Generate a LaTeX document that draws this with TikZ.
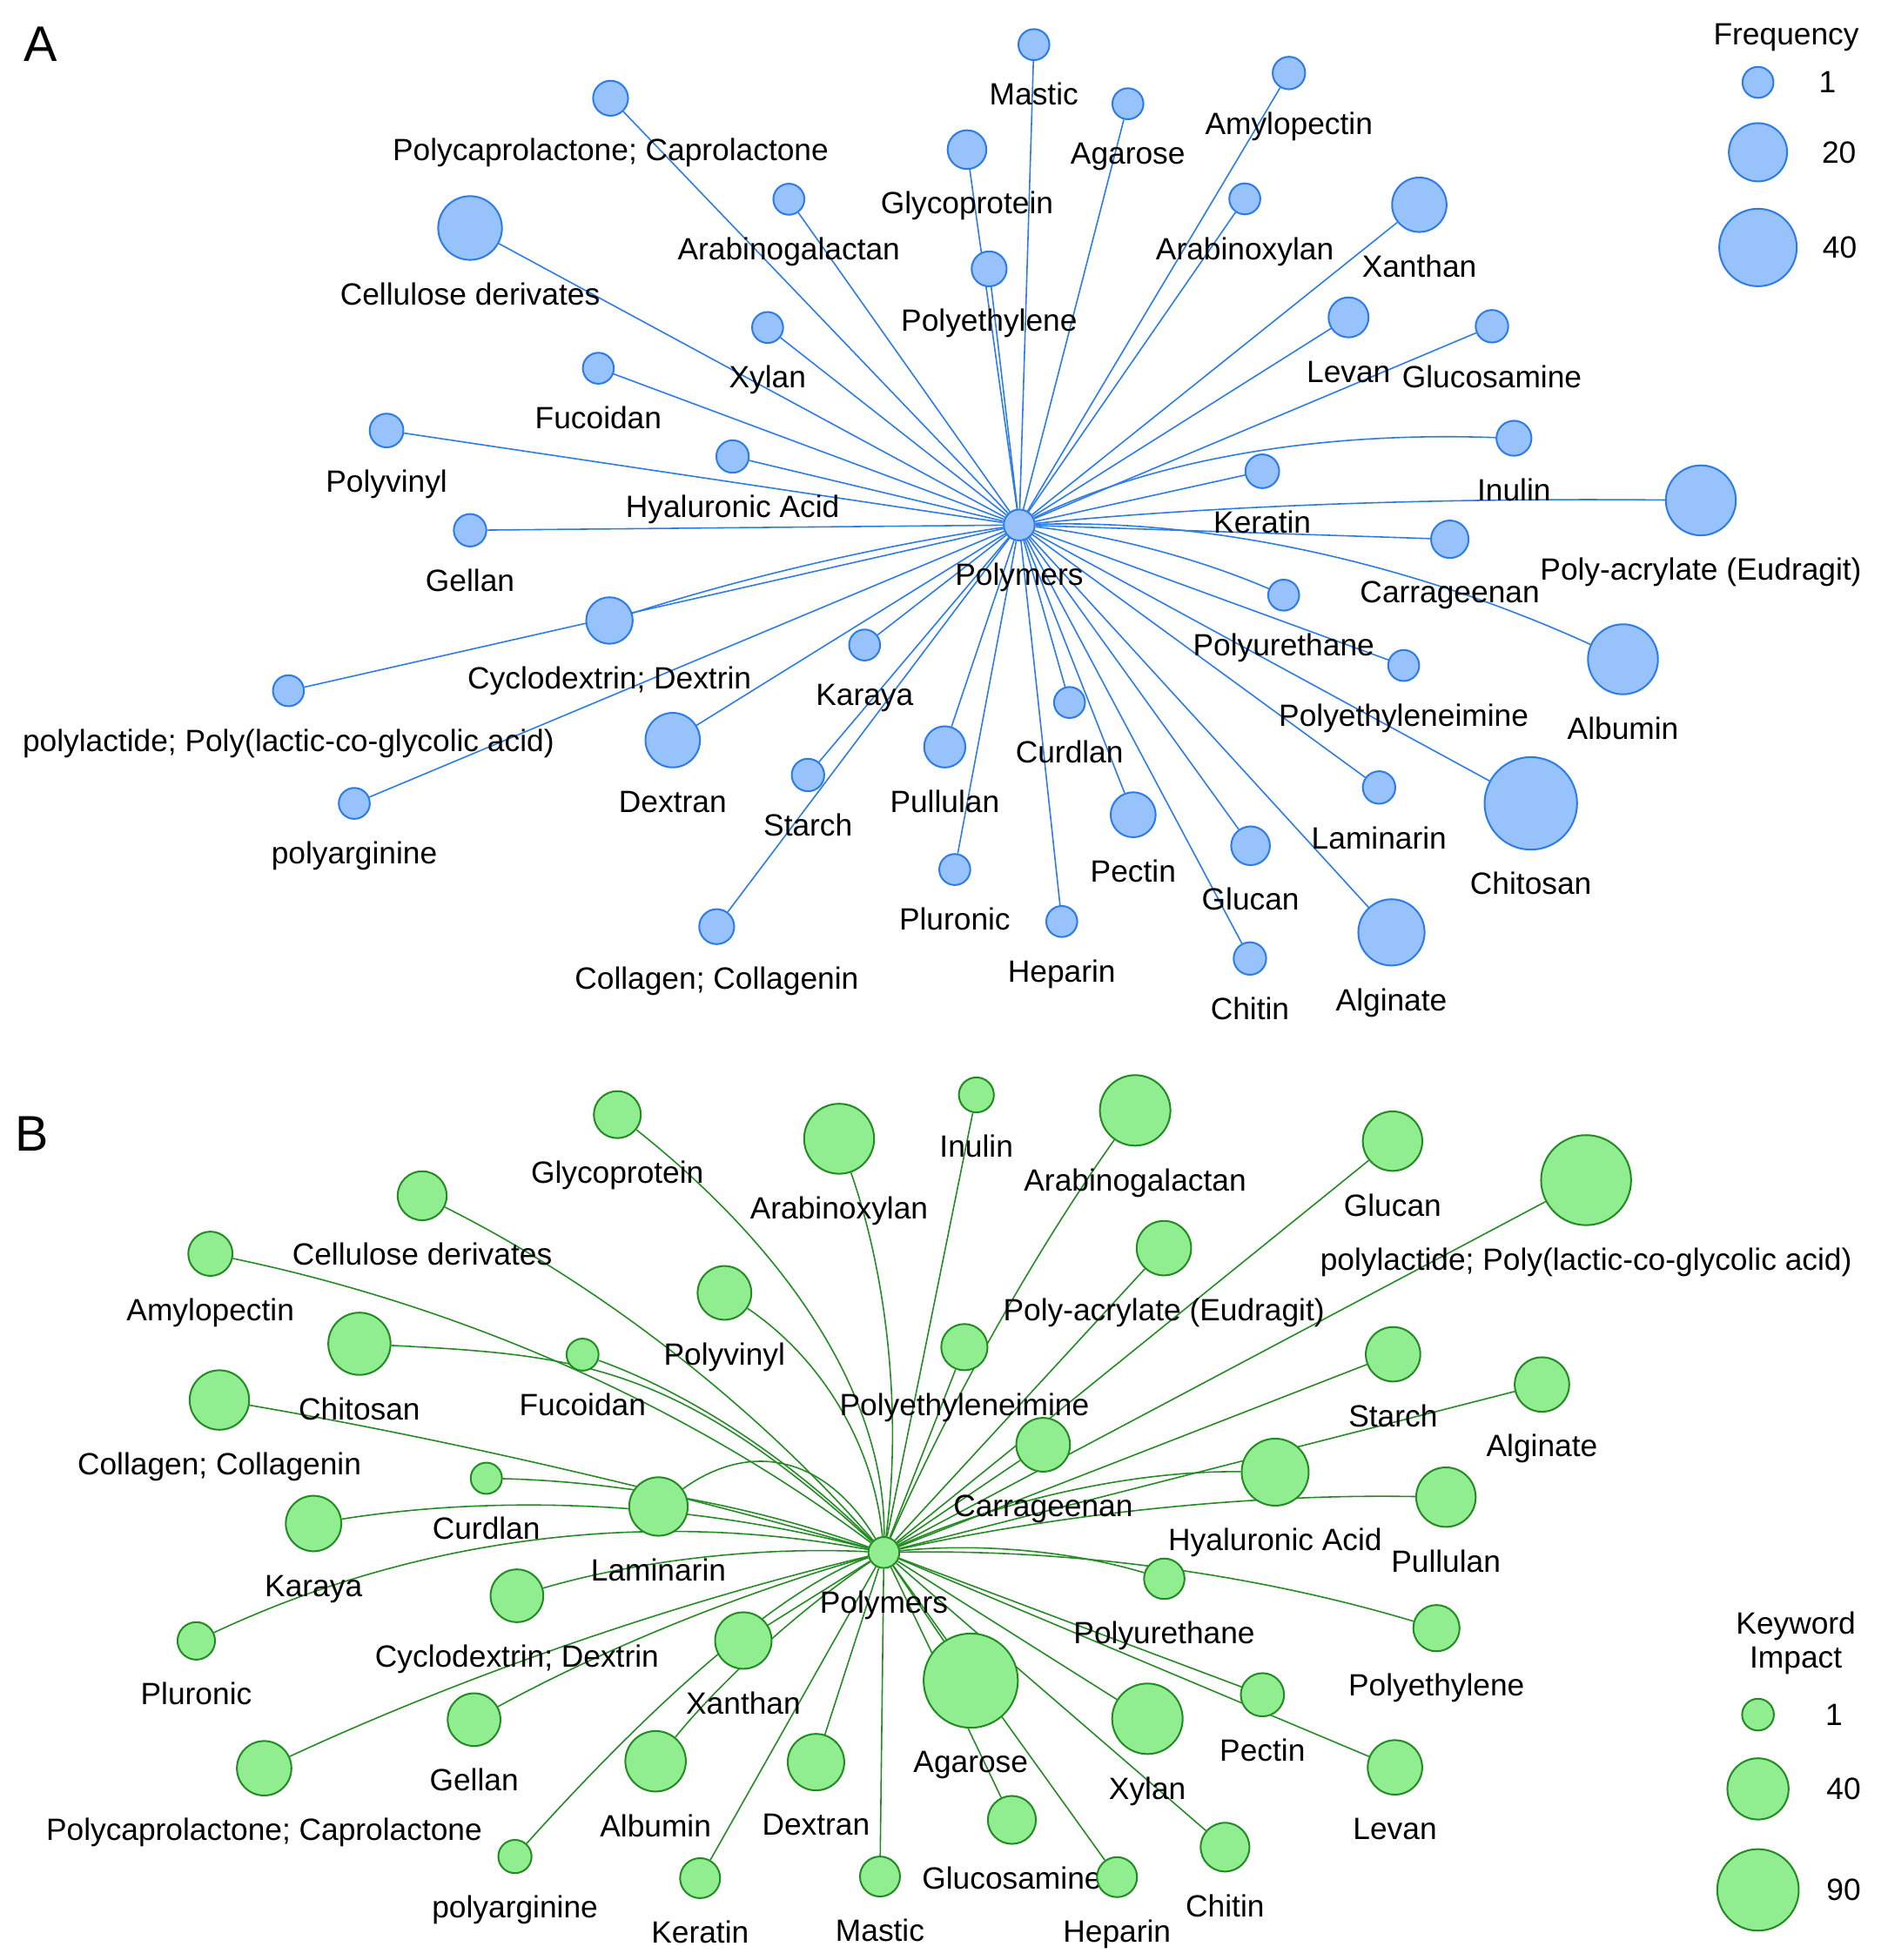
\documentclass[tikz,border=0pt]{standalone}
\usepackage{fontspec}
\setmainfont{Liberation Sans}
\usetikzlibrary{calc}
\pgfdeclarelayer{background}
\pgfsetlayers{background,main}
\definecolor{afill}{HTML}{97C2FC}
\definecolor{aline}{HTML}{2B7CE9}
\definecolor{bfill}{HTML}{90EE90}
\definecolor{bline}{HTML}{228B22}
\newcommand\labfont{\fontsize{24.6}{29}\selectfont}
% style, name, x, y, r, label
\newcommand\pnode[6]{%
  \node[#1, minimum size={2*#5pt}] (#2) at (#3,#4) {};
  \node[lab] (#2-t) at (#3,{#4+#5+36}) {#6};}
% quadratic edge: style, from, via point, to
\newcommand\qedge[4]{\draw[#1] (#2) .. controls ($(#2)!0.6667!(#3)$) and ($(#4)!0.6667!(#3)$) .. (#4);}
\begin{document}
\begin{tikzpicture}[x=1pt,y=-1pt,
  anode/.style={circle, draw=aline, fill=afill, line width=1.4pt, inner sep=0pt},
  bnode/.style={circle, draw=bline, fill=bfill, line width=1.4pt, inner sep=0pt},
  aedge/.style={draw=aline, line width=1.1pt},
  bedge/.style={draw=bline, line width=1.1pt},
  lab/.style={font=\labfont, inner sep=0pt, anchor=base},
  num/.style={font=\labfont, inner sep=0pt},
  panel/.style={font=\fontsize{40}{40}\selectfont, inner sep=0pt, anchor=base west}]
\useasboundingbox (0,0) rectangle (1510,1568);

% ---------------- Panel A ----------------
\node[panel] (pA) at (18.6,48.8) {A};
\pnode{anode}{aC}{815.3}{420}{12.4}{Polymers}
\pnode{anode}{aMas}{827}{35.7}{12.4}{Mastic}
\pnode{anode}{aPcl}{488.4}{78.6}{14}{Polycaprolactone; Caprolactone}
\pnode{anode}{aAga}{902.2}{83}{12.4}{Agarose}
\pnode{anode}{aAmy}{1031}{58.4}{13}{Amylopectin}
\pnode{anode}{aGly}{773.5}{119.7}{15.5}{Glycoprotein}
\pnode{anode}{aAgal}{631}{159.4}{12.4}{Arabinogalactan}
\pnode{anode}{aAxy}{995.7}{159.1}{12.4}{Arabinoxylan}
\pnode{anode}{aXan}{1135.3}{163.8}{21.8}{Xanthan}
\pnode{anode}{aCel}{376}{182.4}{25.5}{Cellulose derivates}
\pnode{anode}{aPeth}{791.2}{215.1}{14}{Polyethylene}
\pnode{anode}{aXyl}{614}{262}{12.4}{Xylan}
\pnode{anode}{aLev}{1078.7}{253.9}{16}{Levan}
\pnode{anode}{aGlcn}{1193.4}{261}{13}{Glucosamine}
\pnode{anode}{aFuc}{478.6}{294.6}{12.4}{Fucoidan}
\pnode{anode}{aPvi}{309.2}{344.4}{13.5}{Polyvinyl}
\pnode{anode}{aInu}{1211}{350.6}{14}{Inulin}
\pnode{anode}{aHya}{586}{365.2}{13}{Hyaluronic Acid}
\pnode{anode}{aKer}{1009.7}{377}{13.5}{Keratin}
\pnode{anode}{aPac}{1360.5}{400.3}{28}{Poly-acrylate (Eudragit)}
\pnode{anode}{aGel}{376}{424.2}{13}{Gellan}
\pnode{anode}{aCar}{1159.7}{431.4}{15}{Carrageenan}
\pnode{anode}{aCyc}{487.5}{496.4}{18.6}{Cyclodextrin; Dextrin}
\pnode{anode}{aPla}{230.7}{552.6}{12.4}{polylactide; Poly(lactic-co-glycolic acid)}
\pnode{anode}{aKar}{691.6}{516}{12.4}{Karaya}
\pnode{anode}{aPur}{1026.8}{476.1}{12.4}{Polyurethane}
\pnode{anode}{aPei}{1122.8}{532.4}{12.4}{Polyethyleneimine}
\pnode{anode}{aAlb}{1298.2}{527.4}{28}{Albumin}
\pnode{anode}{aDex}{538.1}{592.1}{21.8}{Dextran}
\pnode{anode}{aCur}{855.5}{562}{12.4}{Curdlan}
\pnode{anode}{aPul}{755.7}{597.5}{16.5}{Pullulan}
\pnode{anode}{aSta}{646.3}{620}{13}{Starch}
\pnode{anode}{aPar}{283.4}{642.7}{12.4}{polyarginine}
\pnode{anode}{aLam}{1103.1}{630}{13}{Laminarin}
\pnode{anode}{aPec}{906.4}{651.8}{18}{Pectin}
\pnode{anode}{aChs}{1224.5}{642.7}{37}{Chitosan}
\pnode{anode}{aGlu}{1000.3}{676.6}{15.5}{Glucan}
\pnode{anode}{aPlu}{763.7}{695.6}{12.4}{Pluronic}
\pnode{anode}{aAlg}{1113}{745.9}{26.5}{Alginate}
\pnode{anode}{aCol}{573.3}{741.3}{14}{Collagen; Collagenin}
\pnode{anode}{aHep}{849.3}{737.2}{12.4}{Heparin}
\pnode{anode}{aChi}{999.8}{766.8}{13}{Chitin}

% legend A
\node[lab] (legAt) at (1428.8,36.2) {Frequency};
\node[anode, minimum size=24.8pt] (legA1) at (1406.2,65.9) {};
\node[num] (legA1t) at (1461.7,65.9) {1};
\node[anode, minimum size=46.6pt] (legA2) at (1406.2,121.8) {};
\node[num] (legA2t) at (1471,121.8) {20};
\node[anode, minimum size=62pt] (legA3) at (1406.2,198) {};
\node[num] (legA3t) at (1471.6,198) {40};

% ---------------- Panel B ----------------
\node[panel] (pB) at (12.2,920.7) {B};
\pnode{bnode}{bC}{707}{1242}{12.4}{Polymers}
\pnode{bnode}{bInu}{781}{875.9}{14}{Inulin}
\pnode{bnode}{bGly}{493.8}{891.7}{18.8}{Glycoprotein}
\pnode{bnode}{bAxy}{671.2}{911}{28}{Arabinoxylan}
\pnode{bnode}{bAgal}{908}{888.3}{28.2}{Arabinogalactan}
\pnode{bnode}{bGlu}{1113.9}{912.9}{23.8}{Glucan}
\pnode{bnode}{bPla}{1268.7}{944.1}{36}{polylactide; Poly(lactic-co-glycolic acid)}
\pnode{bnode}{bCel}{337.7}{956.6}{19.6}{Cellulose derivates}
\pnode{bnode}{bAmy}{168.3}{1003}{17.7}{Amylopectin}
\pnode{bnode}{bPac}{931}{998.5}{21.8}{Poly-acrylate (Eudragit)}
\pnode{bnode}{bPvi}{579.5}{1034.3}{21.5}{Polyvinyl}
\pnode{bnode}{bChs}{287.5}{1075}{24.9}{Chitosan}
\pnode{bnode}{bFuc}{466}{1083.7}{12.8}{Fucoidan}
\pnode{bnode}{bPei}{771.4}{1077.7}{18.5}{Polyethyleneimine}
\pnode{bnode}{bSta}{1114.3}{1083.4}{21.8}{Starch}
\pnode{bnode}{bAlg}{1233.4}{1107.6}{21.8}{Alginate}
\pnode{bnode}{bCol}{175.5}{1120}{23.8}{Collagen; Collagenin}
\pnode{bnode}{bCar}{834.4}{1155.8}{21.5}{Carrageenan}
\pnode{bnode}{bHya}{1020}{1177.7}{26.8}{Hyaluronic Acid}
\pnode{bnode}{bPul}{1156.6}{1197.7}{23.8}{Pullulan}
\pnode{bnode}{bCur}{389}{1182.6}{12.5}{Curdlan}
\pnode{bnode}{bLam}{526.7}{1205.2}{23.4}{Laminarin}
\pnode{bnode}{bKar}{250.8}{1218.8}{22.2}{Karaya}
\pnode{bnode}{bPur}{931.3}{1263}{16.2}{Polyurethane}
\pnode{bnode}{bCyc}{413.5}{1276.6}{21.1}{Cyclodextrin; Dextrin}
\pnode{bnode}{bPlu}{157}{1312.7}{15}{Pluronic}
\pnode{bnode}{bPeth}{1149}{1302.5}{18.5}{Polyethylene}
\pnode{bnode}{bXan}{594.6}{1312.4}{22.6}{Xanthan}
\pnode{bnode}{bAga}{776.5}{1344.5}{37.7}{Agarose}
\pnode{bnode}{bPec}{1009.8}{1355.8}{17.3}{Pectin}
\pnode{bnode}{bXyl}{917.8}{1375}{28.2}{Xylan}
\pnode{bnode}{bGel}{379.2}{1375.7}{21.1}{Gellan}
\pnode{bnode}{bLev}{1115.8}{1413.9}{21.8}{Levan}
\pnode{bnode}{bPcl}{211.3}{1414.6}{21.8}{Polycaprolactone; Caprolactone}
\pnode{bnode}{bAlb}{524.4}{1409}{24.2}{Albumin}
\pnode{bnode}{bDex}{652.7}{1409.7}{22.6}{Dextran}
\pnode{bnode}{bGlcn}{809.4}{1455.9}{19.2}{Glucosamine}
\pnode{bnode}{bChi}{979.9}{1477.7}{19.5}{Chitin}
\pnode{bnode}{bPar}{411.9}{1485.2}{13.3}{polyarginine}
\pnode{bnode}{bKer}{560}{1502.5}{16}{Keratin}
\pnode{bnode}{bMas}{703.9}{1501.2}{16}{Mastic}
\pnode{bnode}{bHep}{893.5}{1501.7}{16}{Heparin}

% legend B
\node[lab] (legBt1) at (1436.5,1307.5) {Keyword};
\node[lab] (legBt2) at (1436.5,1334.5) {Impact};
\node[bnode, minimum size=25.4pt] (legB1) at (1406.2,1371.7) {};
\node[num] (legB1t) at (1466.9,1371.7) {1};
\node[bnode, minimum size=49pt] (legB2) at (1406.2,1431.1) {};
\node[num] (legB2t) at (1474.7,1431.1) {40};
\node[bnode, minimum size=65.2pt] (legB3) at (1406.2,1511.9) {};
\node[num] (legB3t) at (1474.7,1511.9) {90};

% ---------------- Edges ----------------
\begin{pgfonlayer}{background}
\fill[white] (0,0) rectangle (1510,1568);
\foreach \n in {aMas,aPcl,aAga,aAmy,aGly,aAgal,aAxy,aXan,aCel,aPeth,aXyl,aLev,aGlcn,aFuc,aPvi,aHya,aKer,aGel,aCar,aPla,aKar,aPei,aDex,aCur,aPul,aSta,aPar,aLam,aPec,aChs,aGlu,aPlu,aAlg,aCol,aHep,aChi}
  \draw[aedge] (aC) -- (\n);
\qedge{aedge}{aC}{975,342}{aInu}
\qedge{aedge}{aC}{1045,397}{aPac}
\qedge{aedge}{aC}{1045,412}{aAlb}
\qedge{aedge}{aC}{925.3,432.4}{aPur}
\qedge{aedge}{aC}{648.2,444.7}{aCyc}

\foreach \n in {bInu,bGlu,bPla,bPac,bPei,bSta,bAlg,bCar,bAga,bPec,bXyl,bLev,bChi,bHep,bGlcn,bMas,bKer,bDex,bXan}
  \draw[bedge] (bC) -- (\n);
\qedge{bedge}{bC}{598,1278}{bPar}
\qedge{bedge}{bC}{603.6,1312.2}{bAlb}
\qedge{bedge}{bC}{709.5,1063}{bGly}
\qedge{bedge}{bC}{729,1076}{bAxy}
\qedge{bedge}{bC}{790,1055}{bAgal}
\qedge{bedge}{bC}{550,1063}{bCel}
\qedge{bedge}{bC}{474,1067}{bAmy}
\qedge{bedge}{bC}{695,1112}{bPvi}
\draw[bedge] (bC) .. controls (540,1090) and (460,1084) .. (bChs);
\qedge{bedge}{bC}{595,1130}{bFuc}
\qedge{bedge}{bC}{444.6,1166.4}{bCol}
\qedge{bedge}{bC}{552.8,1186.7}{bCur}
\qedge{bedge}{bC}{636.9,1125.6}{bLam}
\qedge{bedge}{bC}{481.3,1182.5}{bKar}
\qedge{bedge}{bC}{420.7,1189}{bPlu}
\qedge{bedge}{bC}{557.4,1234.5}{bCyc}
\qedge{bedge}{bC}{450.4,1303.8}{bPcl}
\qedge{bedge}{bC}{535.4,1290.5}{bGel}
\qedge{bedge}{bC}{856.5,1175.6}{bHya}
\qedge{bedge}{bC}{929.2,1193.5}{bPul}
\qedge{bedge}{bC}{821.3,1230}{bPur}
\qedge{bedge}{bC}{932.7,1237.6}{bPeth}
\end{pgfonlayer}
\end{tikzpicture}
\end{document}
